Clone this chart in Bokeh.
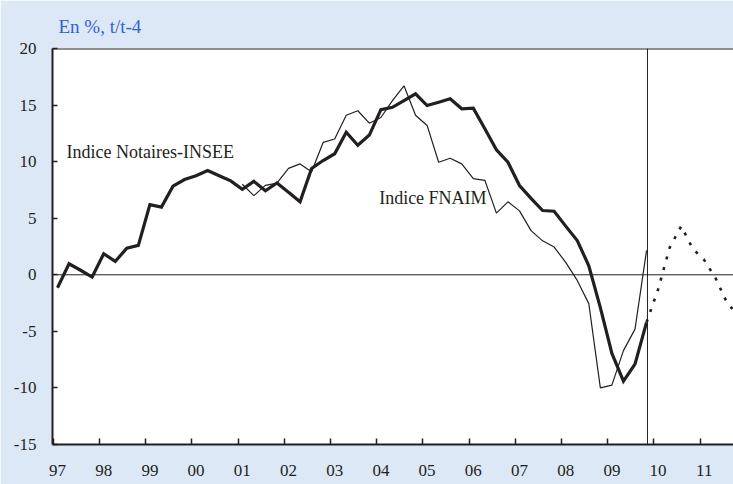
from bokeh.plotting import figure
from bokeh.models import (Range1d, LinearAxis, FixedTicker, Span, Label,
                          BoxAnnotation, ColumnDataSource)
from bokeh.embed import file_html
from bokeh.resources import INLINE

# ---------------- data ----------------
title_text = "En %, t/t-4"
years = list(range(1997, 2012))
year_labels = ["97", "98", "99", "00", "01", "02", "03", "04", "05", "06",
               "07", "08", "09", "10", "11"]
y_ticks = [-15, -10, -5, 0, 5, 10, 15, 20]

notaires_start = "1997T1"
notaires = [-1.15, 0.97, 0.4, -0.2,
            1.86, 1.18, 2.35, 2.6,
            6.2, 5.98, 7.83, 8.42,
            8.75, 9.22, 8.75, 8.3,
            7.55, 8.26, 7.42, 8.12,
            7.3, 6.45, 9.4, 10.1,
            10.7, 12.6, 11.45, 12.35,
            14.6, 14.8, 15.4, 16.0,
            14.96, 15.25, 15.56, 14.67,
            14.73, 12.9, 11.05, 9.95,
            7.89, 6.75, 5.68, 5.62,
            4.3, 3.03, 0.8, -2.9,
            -6.95, -9.4, -7.9, -4.2]

fnaim_start = "2001T1"
fnaim = [8.0, 7.0, 7.9, 8.1,
         9.4, 9.8, 9.1, 11.7,
         12.0, 14.1, 14.5, 13.4,
         13.9, 15.4, 16.7, 14.1,
         13.2, 9.95, 10.3, 9.8,
         8.5, 8.35, 5.45, 6.45,
         5.65, 3.9, 3.0, 2.45,
         1.1, -0.5, -2.55, -10.0,
         -9.75, -6.7, -4.8, 2.15]

prevision_start = "2009T4"
prevision = [-4.2, -1.3, 2.4, 4.3, 2.3, 1.3, -0.35, -2.55, -3.6]

label_notaires = "Indice Notaires-INSEE"
label_fnaim = "Indice FNAIM"


def quarter_x(start, n):
    y, q = start.split("T")
    base = int(y) + (int(q) - 1) / 4.0
    return [base + k / 4.0 for k in range(n)]


# ---------------- style ----------------
BLUE_BG = "#dde8f7"
TITLE_BLUE = "#2f62d6"
INK = "#231f20"
FONT = "Liberation Serif"

W, H = 733, 484
p = figure(width=W, height=H, output_backend="svg", toolbar_location=None,
           x_range=Range1d(1996.892, 2011.632), y_range=Range1d(-15, 20),
           x_axis_type=None, y_axis_type=None,
           min_border_left=52, min_border_right=0, min_border_top=48,
           min_border_bottom=40,
           border_fill_color=BLUE_BG, background_fill_color="white",
           outline_line_color=None)

# white panel behind the chart area
p.add_layout(BoxAnnotation(left=12, right=W, top=38, bottom=H,
                           left_units="canvas", right_units="canvas",
                           top_units="canvas", bottom_units="canvas",
                           fill_color="white", fill_alpha=1.0,
                           line_color=None, level="underlay"))

p.title.text = title_text
p.title.text_font = FONT
p.title.text_font_size = "19px"
p.title.text_font_style = "normal"
p.title.text_color = TITLE_BLUE
p.title.align = "left"
p.title.offset = 6
p.title.standoff = 24

# y axis
yaxis = LinearAxis(ticker=FixedTicker(ticks=y_ticks, minor_ticks=[]),
                   major_label_overrides={t: str(t) for t in y_ticks},
                   axis_line_color=INK, axis_line_width=2,
                   major_tick_in=5, major_tick_out=0,
                   major_tick_line_color=INK, major_tick_line_width=1.5,
                   minor_tick_line_color=None,
                   major_label_standoff=16,
                   major_label_text_font=FONT,
                   major_label_text_font_size="17px",
                   major_label_text_color=INK)
p.add_layout(yaxis, "left")

# x axis: labels at year positions, tick marks just before them
xaxis = LinearAxis(ticker=FixedTicker(ticks=years,
                                      minor_ticks=[y - 0.09 for y in years]),
                   major_label_overrides=dict(zip(years, year_labels)),
                   axis_line_color=INK, axis_line_width=2,
                   major_tick_in=0, major_tick_out=0,
                   major_tick_line_color=None,
                   minor_tick_in=6, minor_tick_out=0,
                   minor_tick_line_color=INK, minor_tick_line_width=1.5,
                   major_label_standoff=20,
                   major_label_text_font=FONT,
                   major_label_text_font_size="17px",
                   major_label_text_color=INK)
p.add_layout(xaxis, "below")

# top frame line, zero line
p.add_layout(Span(location=y_ticks[-1], dimension="width", line_color=INK,
                  line_width=2))
p.add_layout(Span(location=0, dimension="width", line_color=INK, line_width=1))

x_not = quarter_x(notaires_start, len(notaires))
x_fn = quarter_x(fnaim_start, len(fnaim))
x_prev = quarter_x(prevision_start, len(prevision))

# vertical separator at the last observed quarter
p.add_layout(Span(location=x_not[-1] + 0.02, dimension="height",
                  line_color=INK, line_width=1))

src_not = ColumnDataSource(dict(x=x_not, y=notaires))
src_fn = ColumnDataSource(dict(x=x_fn, y=fnaim))
src_prev = ColumnDataSource(dict(x=x_prev, y=prevision))

p.line("x", "y", source=src_fn, line_color=INK, line_width=1.2)
p.line("x", "y", source=src_not, line_color=INK, line_width=3.2,
       line_join="miter")
p.line("x", "y", source=src_prev, line_color=INK, line_width=2.6,
       line_dash="3 8")

p.add_layout(Label(x=1997.195, y=10.81, text=label_notaires, text_font=FONT,
                   text_font_size="18px", text_color=INK,
                   text_baseline="middle", text_align="left"))
p.add_layout(Label(x=2003.962, y=6.83, text=label_fnaim, text_font=FONT,
                   text_font_size="18px", text_color=INK,
                   text_baseline="middle", text_align="left"))

open("out.html", "w").write(file_html(p, INLINE))
